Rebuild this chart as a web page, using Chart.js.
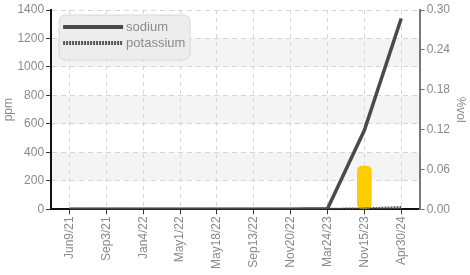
<!DOCTYPE html>
<html>
<head>
<meta charset="utf-8">
<script src="https://cdn.jsdelivr.net/npm/chart.js@4"></script>
<style>
html,body{margin:0;padding:0;background:#fff;}
#wrap{width:470px;height:275px;}
</style>
</head>
<body>
<div id="wrap"><canvas id="c" width="470" height="275"></canvas></div>
<script>
const categories = ["Jun9/21","Sep3/21","Jan4/22","May1/22","May18/22","Sep13/22","Nov20/22","Mar24/23","Nov15/23","Apr30/24"];
const sodium =    [0, 0, 0, 0, 0, 0, 0, 4, 555, 1340];
const potassium = [0, 0, 0, 0, 0, 0, 0, 0, 3, 12];
const volPct =    [null, null, null, null, null, null, null, null, 0.065, null];
const leftTicks = [0, 200, 400, 600, 800, 1000, 1200, 1400];
const rightTicks = [0, 0.06, 0.12, 0.18, 0.24, 0.30];
const leftTitle = 'ppm';
const rightTitle = '%vol';

const FONT = "'Liberation Sans','DejaVu Sans',sans-serif";
const TXT = '#8a8a8a';

const bandPlugin = {
  id: 'bands',
  beforeDraw(chart) {
    const {ctx, chartArea: a, scales} = chart;
    const y = scales.y;
    ctx.save();
    ctx.fillStyle = '#f4f4f4';
    for (let i = 1; i < leftTicks.length - 1; i += 2) {
      const top = y.getPixelForValue(leftTicks[i + 1]);
      const bot = y.getPixelForValue(leftTicks[i]);
      ctx.fillRect(a.left, top, a.right - a.left, bot - top);
    }
    ctx.restore();
  }
};

const overlayPlugin = {
  id: 'overlay',
  afterDraw(chart) {
    const {ctx, chartArea: a, scales} = chart;
    ctx.save();
    const y1 = scales.y1;
    ctx.translate(y1.right + 8, (a.top + a.bottom) / 2);
    ctx.rotate(Math.PI / 2);
    ctx.fillStyle = TXT;
    ctx.font = '12px ' + FONT;
    ctx.textAlign = 'center';
    ctx.textBaseline = 'middle';
    ctx.fillText(rightTitle, 0, 0);
    ctx.restore();

    const x = a.left + 8, y = a.top + 5, w = 131, h = 45, r = 6;
    ctx.save();
    ctx.beginPath();
    ctx.roundRect(x, y, w, h, r);
    ctx.fillStyle = 'rgba(236,236,236,0.95)';
    ctx.fill();
    ctx.strokeStyle = '#d8d8d8';
    ctx.lineWidth = 1;
    ctx.stroke();
    const items = chart.data.datasets.filter(d => d.type === 'line');
    items.forEach((d, i) => {
      const ly = y + 12 + i * 16;
      ctx.beginPath();
      ctx.setLineDash(d.borderDash || []);
      ctx.strokeStyle = d.borderColor;
      ctx.lineWidth = 4;
      ctx.moveTo(x + 4, ly);
      ctx.lineTo(x + 64, ly);
      ctx.stroke();
      ctx.setLineDash([]);
      ctx.fillStyle = TXT;
      ctx.font = '13px ' + FONT;
      ctx.textBaseline = 'middle';
      ctx.fillText(d.label, x + 67, ly);
    });
    ctx.restore();
  }
};

new Chart(document.getElementById('c'), {
  data: {
    labels: categories,
    datasets: [
      {type: 'line', label: 'sodium', data: sodium, yAxisID: 'y', borderColor: '#4a4a4a', borderWidth: 3.5, pointRadius: 0, tension: 0, order: 1},
      {type: 'line', label: 'potassium', data: potassium, yAxisID: 'y', borderColor: '#555555', borderWidth: 3, borderDash: [2, 1], pointRadius: 0, tension: 0, order: 2},
      {type: 'bar', label: rightTitle, data: volPct, yAxisID: 'y1', backgroundColor: '#ffcc00', barThickness: 14, borderRadius: 5, borderSkipped: false, order: 3}
    ]
  },
  options: {
    responsive: false,
    animation: false,
    layout: {padding: {top: 10, right: 18, bottom: 4, left: 1}},
    plugins: {legend: {display: false}, tooltip: {enabled: false}},
    scales: {
      x: {
        offset: true,
        grid: {color: '#d6d6d6', lineWidth: 1, offset: false, drawTicks: true, tickLength: 5, tickColor: '#333', tickBorderDash: []},
        border: {display: true, color: '#111', width: 2, dash: [4, 4]},
        ticks: {color: TXT, font: {family: FONT, size: 12}, minRotation: 90, maxRotation: 90, padding: 2, autoSkip: false}
      },
      y: {
        position: 'left',
        min: 0, max: 1400,
        afterBuildTicks(s) { s.ticks = leftTicks.map(v => ({value: v})); },
        grid: {color: '#d6d6d6', lineWidth: 1, tickLength: 5, tickColor: '#333', tickBorderDash: []},
        border: {display: true, color: '#111', width: 2, dash: [5, 4]},
        ticks: {color: TXT, font: {family: FONT, size: 12}, padding: 2, callback: v => String(v)},
        title: {display: true, text: leftTitle, color: TXT, font: {family: FONT, size: 12}, padding: {top: 0, bottom: 0}}
      },
      y1: {
        position: 'right',
        min: 0, max: 0.30,
        afterBuildTicks(s) { s.ticks = rightTicks.map(v => ({value: v})); },
        grid: {drawOnChartArea: false, tickLength: 5, tickColor: '#777'},
        border: {display: true, color: '#777', width: 2},
        ticks: {color: TXT, font: {family: FONT, size: 12}, padding: 2, callback: v => Number(v).toFixed(2)}
      }
    }
  },
  plugins: [bandPlugin, overlayPlugin]
});
</script>
</body>
</html>
